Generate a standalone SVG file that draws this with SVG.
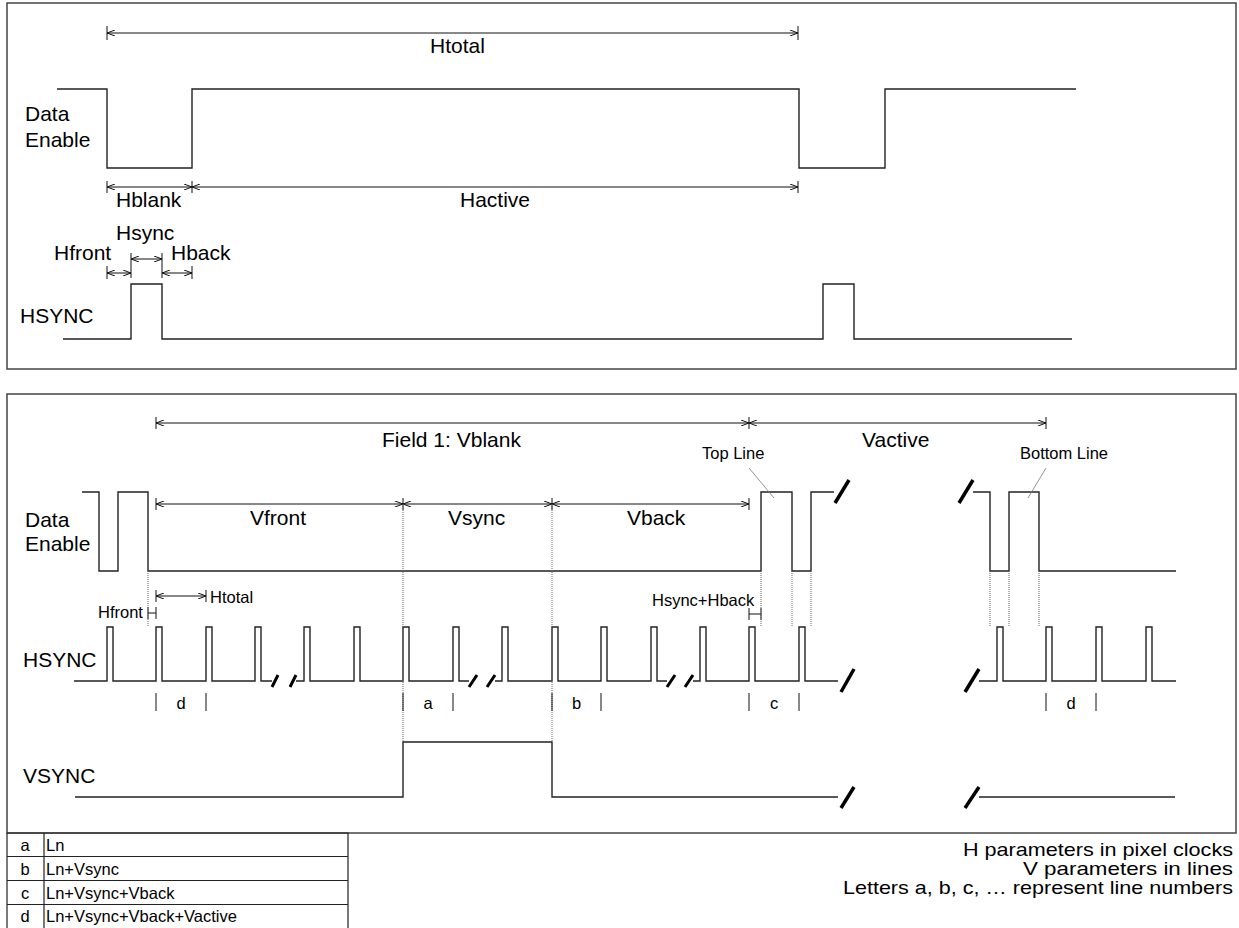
<svg xmlns="http://www.w3.org/2000/svg" width="1239" height="928" viewBox="0 0 1239 928">
<style>
text{font-family:"Liberation Sans",Arial,sans-serif;fill:#000}
.L{font-size:21px}
.N{font-size:18.5px}
.S{font-size:16.5px}
.m{text-anchor:middle}
.e{text-anchor:end}
.panel{fill:none;stroke:#444;stroke-width:1.5}
.wave{fill:none;stroke:#222;stroke-width:1.4}
.dim{fill:none;stroke:#111;stroke-width:1}
.tick{stroke:#111;stroke-width:1}
.dot{stroke:#666;stroke-width:1;stroke-dasharray:1 1}
.brk{stroke:#000;stroke-width:3.5;stroke-linecap:butt}
.sbrk{stroke:#000;stroke-width:3}
.lead{stroke:#777;stroke-width:0.8}
.tbl{fill:none;stroke:#222;stroke-width:1.2}
</style>
<defs>
<marker id="ah" viewBox="0 0 8 6" refX="8" refY="3" markerWidth="8" markerHeight="6" markerUnits="userSpaceOnUse" orient="auto-start-reverse">
<path d="M0,0 L8,3 L0,6" fill="none" stroke="#111" stroke-width="1"/>
</marker>
</defs>

<g id="panel-top">
<rect class="panel" x="7" y="3" width="1229" height="366"/>
</g>
<g id="panel-bottom">
<rect class="panel" x="7" y="394" width="1229" height="439"/>
</g>

<g id="top-de">
<text class="L" x="25" y="121">Data</text>
<text class="L" x="25" y="147">Enable</text>
<path class="wave" d="M57,89 H107 V168 H192 V89 H799 V168 H885 V89 H1076"/>
</g>
<g id="top-hsync">
<text class="L" x="20" y="323">HSYNC</text>
<path class="wave" d="M63,339 H131 V284 H162 V339 H823 V284 H854 V339 H1072"/>
</g>

<g id="top-labels">
<text class="L" x="430" y="53">Htotal</text>
<text class="L" x="116" y="207">Hblank</text>
<text class="L m" x="495" y="207">Hactive</text>
<text class="L" x="116" y="240">Hsync</text>
<text class="L" x="54" y="260">Hfront</text>
<text class="L" x="171" y="260">Hback</text>
</g>

<g id="bottom-de">
<text class="L" x="25" y="527">Data</text>
<text class="L" x="25" y="551">Enable</text>
<path class="wave" d="M82,492 H99 V571 H118 V492 H148 V571 H761 V492 H792 V571 H811 V492 H834"/>
<path class="wave" d="M973,492 H990 V571 H1009 V492 H1039 V571 H1176"/>
</g>
<g id="bottom-hsync">
<text class="L" x="23" y="667">HSYNC</text>
<path class="wave" d="M74,681 H107 V627 H113 V681 H156 V627 H162 V681 H206 V627 H212 V681 H255 V627 H261 V681 H272 M296,681 H304 V627 H310 V681 H354 V627 H360 V681 H403 V627 H409 V681 H453 V627 H459 V681 H469 M495,681 H502 V627 H508 V681 H552 V627 H558 V681 H601 V627 H607 V681 H651 V627 H657 V681 H667 M693,681 H700 V627 H706 V681 H749 V627 H755 V681 H799 V627 H805 V681 H838"/>
<path class="wave" d="M979,681 H997 V627 H1003 V681 H1046 V627 H1052 V681 H1096 V627 H1102 V681 H1146 V627 H1152 V681 H1176"/>
</g>
<g id="bottom-vsync">
<text class="L" x="23" y="783">VSYNC</text>
<path class="wave" d="M75,797 H403 V742 H552 V797 H838"/>
<path class="wave" d="M979,797 H1175"/>
</g>

<g id="breaks">
<line class="brk" x1="835" y1="503" x2="849" y2="480"/>
<line class="brk" x1="959" y1="503" x2="973" y2="480"/>
<line class="brk" x1="841" y1="692" x2="854" y2="669"/>
<line class="brk" x1="965" y1="692" x2="979" y2="669"/>
<line class="brk" x1="841" y1="808" x2="854" y2="787"/>
<line class="brk" x1="965" y1="808" x2="979" y2="787"/>
<line class="sbrk" x1="272" y1="687" x2="278" y2="675"/>
<line class="sbrk" x1="290" y1="687" x2="296" y2="675"/>
<line class="sbrk" x1="469" y1="687" x2="477" y2="675"/>
<line class="sbrk" x1="487" y1="687" x2="495" y2="675"/>
<line class="sbrk" x1="667" y1="687" x2="675" y2="675"/>
<line class="sbrk" x1="685" y1="687" x2="693" y2="675"/>
</g>

<g id="bottom-labels">
<text class="L" x="382" y="447">Field 1: Vblank</text>
<text class="L" x="862" y="447">Vactive</text>
<text class="L" x="250" y="525">Vfront</text>
<text class="L" x="448" y="525">Vsync</text>
<text class="L" x="627" y="525">Vback</text>
<text class="S" x="702" y="459">Top Line</text>
<text class="S" x="1020" y="459">Bottom Line</text>
<text class="S" x="210" y="603">Htotal</text>
<text class="S" x="98" y="618">Hfront</text>
<text class="S" x="652" y="606">Hsync+Hback</text>
<text class="S m" x="181" y="709">d</text>
<text class="S m" x="428" y="709">a</text>
<text class="S m" x="576.5" y="709">b</text>
<text class="S m" x="774" y="709">c</text>
<text class="S m" x="1071" y="709">d</text>
</g>

<g id="connectors">
<line class="dim" x1="107" y1="33" x2="798" y2="33" marker-start="url(#ah)" marker-end="url(#ah)"/>
<line class="tick" x1="107" y1="26" x2="107" y2="40"/>
<line class="tick" x1="798" y1="26" x2="798" y2="40"/>
<line class="dim" x1="107" y1="187" x2="192" y2="187" marker-start="url(#ah)" marker-end="url(#ah)"/>
<line class="dim" x1="192" y1="187" x2="798" y2="187" marker-start="url(#ah)" marker-end="url(#ah)"/>
<line class="tick" x1="107" y1="181" x2="107" y2="193"/>
<line class="tick" x1="192" y1="181" x2="192" y2="193"/>
<line class="tick" x1="798" y1="181" x2="798" y2="193"/>
<line class="dim" x1="107" y1="273" x2="131" y2="273" marker-start="url(#ah)" marker-end="url(#ah)"/>
<line class="dim" x1="131" y1="259" x2="162" y2="259" marker-start="url(#ah)" marker-end="url(#ah)"/>
<line class="dim" x1="162" y1="273" x2="192" y2="273" marker-start="url(#ah)" marker-end="url(#ah)"/>
<line class="tick" x1="107" y1="266" x2="107" y2="279"/>
<line class="tick" x1="131" y1="253" x2="131" y2="278"/>
<line class="tick" x1="162" y1="253" x2="162" y2="278"/>
<line class="tick" x1="192" y1="266" x2="192" y2="279"/>
<line class="dim" x1="156" y1="423" x2="749" y2="423" marker-start="url(#ah)" marker-end="url(#ah)"/>
<line class="dim" x1="749" y1="423" x2="1046" y2="423" marker-start="url(#ah)" marker-end="url(#ah)"/>
<line class="tick" x1="156" y1="417" x2="156" y2="429"/>
<line class="tick" x1="749" y1="417" x2="749" y2="429"/>
<line class="tick" x1="1046" y1="417" x2="1046" y2="429"/>
<line class="dim" x1="156" y1="504" x2="403" y2="504" marker-start="url(#ah)" marker-end="url(#ah)"/>
<line class="dim" x1="403" y1="504" x2="552" y2="504" marker-start="url(#ah)" marker-end="url(#ah)"/>
<line class="dim" x1="552" y1="504" x2="749" y2="504" marker-start="url(#ah)" marker-end="url(#ah)"/>
<line class="tick" x1="156" y1="498" x2="156" y2="510"/>
<line class="tick" x1="403" y1="498" x2="403" y2="510"/>
<line class="tick" x1="552" y1="498" x2="552" y2="510"/>
<line class="tick" x1="749" y1="498" x2="749" y2="510"/>
<line class="dim" x1="156" y1="596" x2="206" y2="596" marker-start="url(#ah)" marker-end="url(#ah)"/>
<line class="tick" x1="156" y1="590" x2="156" y2="602"/>
<line class="tick" x1="206" y1="590" x2="206" y2="602"/>
<line class="dim" x1="148" y1="613" x2="156" y2="613"/>
<line class="tick" x1="148" y1="607" x2="148" y2="619"/>
<line class="tick" x1="156" y1="607" x2="156" y2="619"/>
<line class="dim" x1="749" y1="614" x2="761" y2="614"/>
<line class="tick" x1="749" y1="608" x2="749" y2="620"/>
<line class="tick" x1="761" y1="608" x2="761" y2="620"/>
<line class="dot" x1="148" y1="571" x2="148" y2="627"/>
<line class="dot" x1="403" y1="504" x2="403" y2="742"/>
<line class="dot" x1="552" y1="504" x2="552" y2="742"/>
<line class="dot" x1="761" y1="571" x2="761" y2="627"/>
<line class="dot" x1="792" y1="571" x2="792" y2="627"/>
<line class="dot" x1="811" y1="571" x2="811" y2="627"/>
<line class="dot" x1="990" y1="571" x2="990" y2="627"/>
<line class="dot" x1="1009" y1="571" x2="1009" y2="627"/>
<line class="dot" x1="1039" y1="571" x2="1039" y2="627"/>
<line class="lead" x1="749" y1="468" x2="774" y2="498"/>
<line class="lead" x1="1046" y1="468" x2="1028" y2="498"/>
<line class="tick" x1="156" y1="693" x2="156" y2="711"/>
<line class="tick" x1="206" y1="693" x2="206" y2="711"/>
<line class="tick" x1="403" y1="693" x2="403" y2="711"/>
<line class="tick" x1="453" y1="693" x2="453" y2="711"/>
<line class="tick" x1="552" y1="693" x2="552" y2="711"/>
<line class="tick" x1="601" y1="693" x2="601" y2="711"/>
<line class="tick" x1="749" y1="693" x2="749" y2="711"/>
<line class="tick" x1="799" y1="693" x2="799" y2="711"/>
<line class="tick" x1="1046" y1="693" x2="1046" y2="711"/>
<line class="tick" x1="1096" y1="693" x2="1096" y2="711"/>
</g>

<g id="legend-table">
<path class="tbl" d="M7,833 H348 V930 M7,833 V930 M44,833 V930 M7,856.5 H348 M7,880.5 H348 M7,904.5 H348"/>
<text class="S m" x="25" y="851">a</text>
<text class="S" x="46" y="851">Ln</text>
<text class="S m" x="25" y="875">b</text>
<text class="S" x="46" y="875">Ln+Vsync</text>
<text class="S m" x="25" y="899">c</text>
<text class="S" x="46" y="899">Ln+Vsync+Vback</text>
<text class="S m" x="25" y="922">d</text>
<text class="S" x="46" y="922">Ln+Vsync+Vback+Vactive</text>
</g>

<g id="notes">
<text class="N e" x="1233" y="856" textLength="270" lengthAdjust="spacingAndGlyphs">H parameters in pixel clocks</text>
<text class="N e" x="1233" y="875" textLength="210" lengthAdjust="spacingAndGlyphs">V parameters in lines</text>
<text class="N e" x="1233" y="894" textLength="390" lengthAdjust="spacingAndGlyphs">Letters a, b, c, … represent line numbers</text>
</g>
</svg>
